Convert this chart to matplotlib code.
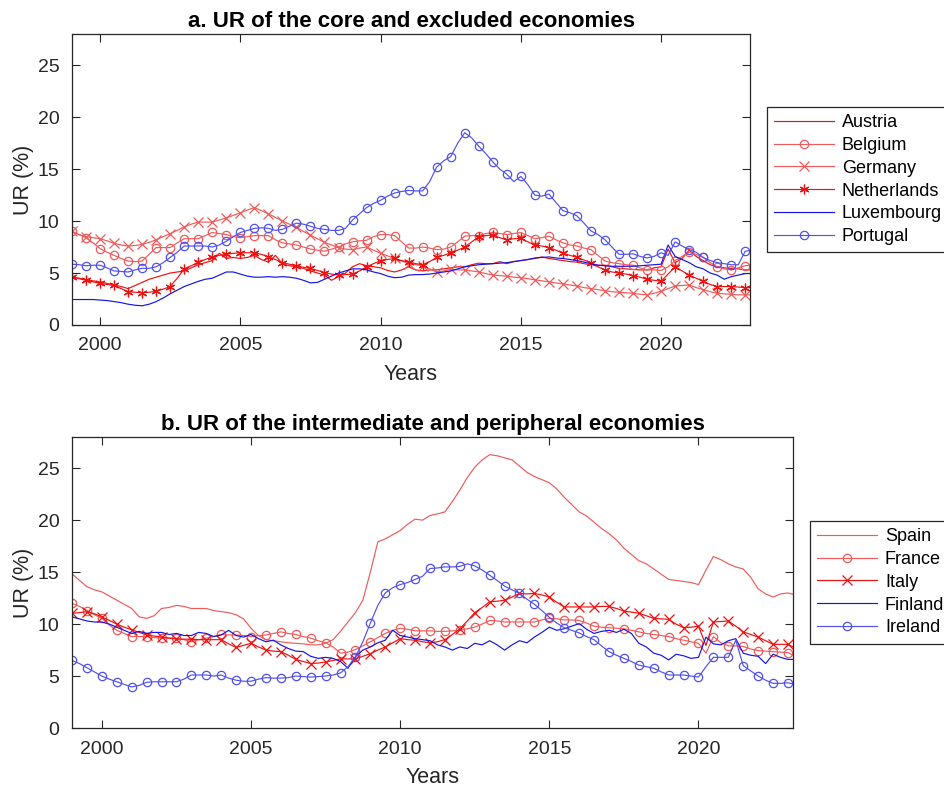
import numpy as np
import matplotlib
matplotlib.use("Agg")
import matplotlib.pyplot as plt

plt.rcParams["font.family"] = ["Liberation Sans", "DejaVu Sans"]

# Quarterly time axis (fractional years), Q1 1999 onwards
years = np.arange(1999.0, 2023.26, 0.25)

# ---- Panel a: core and excluded economies (unemployment rate, %) ----
austria = [4.65, 4.5, 4.35, 4.25, 4.15, 4.0, 3.85, 3.7, 3.5, 3.8, 4.1, 4.4,
           4.6, 4.8, 5.0, 5.1, 5.2, 5.5, 5.8, 6.0, 6.2, 6.9, 6.4, 6.5,
           6.4, 6.5, 6.7, 6.3, 6.05, 6.7, 5.9, 5.7, 5.6, 5.45, 5.2, 5.0,
           4.8, 4.3, 4.65, 5.0, 5.6, 5.9, 5.7, 5.6, 5.5, 5.25, 5.1, 5.3,
           5.6, 5.3, 5.2, 5.3, 5.3, 5.4, 5.5, 5.6, 5.6, 5.8, 5.95, 5.9,
           5.9, 6.1, 5.9, 6.1, 6.2, 6.3, 6.4, 6.55, 6.4, 6.3, 6.2, 6.1,
           6.05, 5.9, 5.8, 5.75, 5.75, 5.6, 5.45, 5.4, 5.35, 5.3, 5.3, 5.5,
           5.6, 7.3, 6.0, 6.4, 7.2, 6.6, 6.2, 5.8, 5.6, 5.5, 5.45, 5.4,
           5.3, 5.3]
belgium = [9.0, 8.7, 8.4, 7.9, 7.35, 7.0, 6.7, 6.4, 6.15, 6.1, 6.15, 6.8,
           7.45, 7.45, 7.45, 7.9, 8.3, 8.3, 8.3, 8.6, 8.9, 8.8, 8.7, 8.5,
           8.4, 8.5, 8.6, 8.6, 8.6, 8.2, 7.9, 7.8, 7.7, 7.5, 7.3, 7.2,
           7.1, 7.3, 7.5, 7.8, 8.0, 8.1, 8.15, 8.5, 8.7, 8.7, 8.6, 8.0,
           7.4, 7.4, 7.5, 7.4, 7.25, 7.3, 7.5, 8.0, 8.55, 8.6, 8.6, 8.8,
           8.9, 8.8, 8.7, 8.8, 8.9, 8.6, 8.3, 8.4, 8.55, 8.2, 7.9, 7.7,
           7.6, 7.4, 7.25, 6.7, 6.15, 6.0, 5.9, 5.8, 5.75, 5.5, 5.3, 5.3,
           5.25, 5.6, 6.2, 6.6, 7.0, 6.8, 6.5, 6.0, 5.6, 5.4, 5.3, 5.5,
           5.7, 5.8]
germany = [9.0, 8.7, 8.5, 8.4, 8.3, 8.1, 7.85, 7.7, 7.6, 7.65, 7.75, 7.95,
           8.2, 8.5, 8.8, 9.1, 9.45, 9.7, 9.9, 9.9, 9.9, 10.1, 10.3, 10.55,
           10.8, 11.05, 11.3, 11.0, 10.7, 10.35, 10.0, 9.7, 9.4, 9.0, 8.65, 8.3,
           7.95, 7.7, 7.45, 7.3, 7.25, 7.4, 7.5, 7.2, 6.9, 6.65, 6.4, 6.15,
           5.9, 5.8, 5.7, 5.4, 5.1, 5.2, 5.35, 5.3, 5.3, 5.2, 5.1, 4.95,
           4.8, 4.75, 4.7, 4.6, 4.55, 4.45, 4.35, 4.25, 4.15, 4.05, 3.95, 3.85,
           3.75, 3.6, 3.5, 3.4, 3.3, 3.2, 3.15, 3.1, 3.05, 2.95, 2.9, 3.05,
           3.25, 3.5, 3.75, 3.8, 3.85, 3.6, 3.4, 3.2, 3.05, 3.0, 2.95, 2.9,
           2.9, 2.9]
netherlands = [4.65, 4.45, 4.3, 4.15, 4.0, 3.9, 3.8, 3.5, 3.2, 3.15, 3.1, 3.15,
               3.25, 3.45, 3.7, 4.5, 5.4, 5.7, 6.05, 6.3, 6.55, 6.7, 6.8, 6.9,
               6.95, 6.95, 6.95, 6.8, 6.55, 6.3, 6.0, 5.85, 5.7, 5.55, 5.45, 5.25,
               5.05, 4.9, 4.8, 4.85, 4.9, 5.2, 5.6, 5.9, 6.2, 6.3, 6.4, 6.2,
               6.05, 5.9, 5.8, 6.1, 6.5, 6.7, 6.95, 7.2, 7.5, 8.0, 8.5, 8.6,
               8.65, 8.4, 8.2, 8.3, 8.35, 8.0, 7.7, 7.6, 7.45, 7.2, 6.9, 6.7,
               6.5, 6.25, 6.0, 5.6, 5.3, 5.1, 5.0, 4.9, 4.75, 4.6, 4.4, 4.3,
               4.2, 4.9, 5.6, 5.2, 4.8, 4.5, 4.2, 3.9, 3.7, 3.7, 3.7, 3.65,
               3.6, 3.6]
luxembourg = [2.45, 2.45, 2.45, 2.45, 2.4, 2.35, 2.25, 2.15, 2.0, 1.9, 1.85, 2.0,
              2.25, 2.6, 3.0, 3.35, 3.7, 3.95, 4.2, 4.4, 4.5, 4.8, 5.1, 5.1,
              4.9, 4.7, 4.6, 4.6, 4.65, 4.6, 4.65, 4.6, 4.5, 4.3, 4.05, 4.1,
              4.4, 4.7, 5.0, 5.2, 5.4, 5.4, 5.3, 5.1, 4.95, 4.7, 4.55, 4.6,
              4.8, 4.85, 4.85, 4.9, 5.0, 5.1, 5.2, 5.4, 5.6, 5.7, 5.8, 5.85,
              5.9, 5.95, 6.0, 6.1, 6.2, 6.3, 6.45, 6.5, 6.55, 6.45, 6.4, 6.3,
              6.2, 6.05, 5.9, 5.75, 5.7, 5.65, 5.65, 5.65, 5.65, 5.7, 5.75, 5.8,
              5.85, 7.7, 6.6, 6.3, 6.0, 5.6, 5.4, 5.0, 4.8, 4.4, 4.65, 4.8,
              4.95, 4.95]
portugal = [5.85, 5.8, 5.7, 5.75, 5.75, 5.5, 5.2, 5.15, 5.1, 5.3, 5.45, 5.45,
            5.6, 6.0, 6.5, 7.0, 7.6, 7.6, 7.6, 7.6, 7.5, 7.7, 8.05, 8.5,
            8.9, 9.1, 9.3, 9.35, 9.3, 9.1, 9.2, 9.5, 9.8, 9.7, 9.5, 9.3,
            9.2, 9.1, 9.1, 9.3, 10.1, 10.7, 11.3, 11.7, 12.0, 12.4, 12.7, 12.85,
            12.95, 12.9, 12.9, 13.8, 15.2, 15.8, 16.2, 17.5, 18.5, 18.0, 17.2, 16.5,
            15.7, 15.0, 14.5, 13.8, 14.3, 13.5, 12.5, 12.4, 12.6, 11.8, 11.0, 10.8,
            10.5, 9.8, 9.05, 8.7, 8.2, 7.5, 6.8, 6.8, 6.85, 6.6, 6.45, 6.6,
            6.95, 6.7, 8.0, 7.6, 7.25, 7.0, 6.5, 6.2, 6.0, 5.9, 5.8, 5.8,
            7.1, 7.2]

# ---- Panel b: intermediate and peripheral economies ----
spain = [14.85, 14.2, 13.6, 13.3, 13.1, 12.7, 12.3, 11.9, 11.5, 10.7, 10.55, 10.8,
         11.5, 11.6, 11.8, 11.7, 11.5, 11.5, 11.5, 11.3, 11.2, 11.1, 10.9, 10.5,
         9.6, 8.9, 8.5, 8.4, 8.3, 8.2, 8.15, 8.1, 8.0, 8.0, 8.15, 8.5,
         9.3, 10.2, 11.1, 12.3, 15.0, 17.9, 18.2, 18.6, 19.0, 19.6, 20.1, 20.0,
         20.45, 20.6, 20.8, 21.8, 22.9, 24.1, 25.1, 25.8, 26.3, 26.2, 26.0, 25.8,
         25.2, 24.6, 24.2, 23.9, 23.6, 23.0, 22.2, 21.5, 20.8, 20.4, 19.8, 19.2,
         18.7, 18.1, 17.3, 16.7, 16.1, 15.8, 15.3, 14.8, 14.3, 14.2, 14.1, 14.0,
         13.8, 15.2, 16.5, 16.2, 15.8, 15.5, 15.3, 14.5, 13.4, 12.9, 12.6, 12.9,
         13.0, 12.8]
france = [12.0, 11.7, 11.3, 10.9, 10.55, 9.9, 9.4, 9.1, 8.8, 8.8, 8.8, 8.7,
          8.65, 8.65, 8.65, 8.5, 8.3, 8.5, 8.65, 8.8, 9.0, 8.95, 8.95, 8.9,
          8.8, 8.9, 8.95, 9.1, 9.25, 9.1, 9.0, 8.8, 8.65, 8.4, 8.2, 7.8,
          7.2, 7.3, 7.55, 7.9, 8.3, 8.7, 9.1, 9.4, 9.6, 9.5, 9.35, 9.35,
          9.35, 9.3, 9.3, 9.35, 9.4, 9.55, 9.7, 10.0, 10.35, 10.3, 10.2, 10.2,
          10.2, 10.2, 10.2, 10.4, 10.55, 10.5, 10.4, 10.4, 10.35, 10.1, 9.8, 9.7,
          9.65, 9.6, 9.55, 9.4, 9.25, 9.1, 9.0, 8.9, 8.8, 8.6, 8.45, 8.3,
          8.15, 7.2, 8.8, 8.2, 7.9, 7.9, 7.85, 7.6, 7.45, 7.4, 7.35, 7.3,
          7.25, 6.9]
italy = [11.05, 11.1, 11.2, 11.0, 10.7, 10.35, 10.0, 9.7, 9.45, 9.2, 8.95, 8.85,
         8.75, 8.65, 8.55, 8.55, 8.55, 8.5, 8.5, 8.5, 8.5, 8.1, 7.75, 7.95,
         8.15, 7.8, 7.5, 7.4, 7.35, 7.0, 6.6, 6.4, 6.2, 6.25, 6.35, 6.5,
         6.65, 6.65, 6.65, 6.9, 7.15, 7.5, 7.8, 8.2, 8.6, 8.5, 8.45, 8.3,
         8.2, 8.3, 8.5, 9.0, 9.55, 10.3, 11.1, 11.6, 12.15, 12.2, 12.3, 12.6,
         12.95, 12.9, 12.95, 12.8, 12.6, 12.1, 11.65, 11.65, 11.65, 11.65, 11.65, 11.7,
         11.7, 11.5, 11.25, 11.15, 11.05, 10.8, 10.55, 10.5, 10.45, 10.0, 9.65, 9.7,
         9.8, 7.95, 10.2, 10.25, 10.3, 9.8, 9.25, 9.0, 8.75, 8.4, 8.05, 8.05,
         8.05, 7.7]
finland = [10.7, 10.5, 10.3, 10.2, 10.2, 10.0, 9.7, 9.4, 9.1, 9.3, 9.1, 9.2,
           9.2, 9.0, 9.1, 8.9, 8.9, 9.2, 9.1, 8.8, 8.95, 9.4, 8.9, 8.75,
           9.0, 8.6, 8.3, 8.45, 8.0, 7.65, 7.4, 7.35, 6.9, 6.7, 6.8, 6.7,
           6.4, 5.75, 6.85, 7.5, 7.8, 8.2, 8.45, 9.4, 8.9, 8.75, 8.6, 8.5,
           8.4, 8.0, 7.8, 7.5, 7.8, 7.65, 8.15, 8.0, 8.4, 8.0, 7.5, 8.0,
           8.4, 8.2, 8.75, 9.2, 9.7, 9.4, 9.55, 9.8, 10.05, 9.5, 9.1, 9.3,
           9.4, 9.2, 9.5, 9.1, 8.15, 7.8, 7.2, 7.0, 6.55, 7.1, 6.95, 6.7,
           6.8, 8.75, 8.1, 8.0, 8.4, 8.6, 7.2, 7.0, 6.9, 6.2, 7.1, 6.8,
           6.6, 6.6]
ireland = [6.5, 6.2, 5.8, 5.4, 5.0, 4.7, 4.45, 4.2, 3.95, 4.1, 4.4, 4.45,
           4.45, 4.45, 4.45, 4.7, 5.1, 5.1, 5.1, 5.0, 5.1, 4.8, 4.6, 4.5,
           4.5, 4.7, 4.85, 4.8, 4.8, 4.85, 5.0, 4.95, 4.9, 4.95, 5.0, 5.1,
           5.3, 5.9, 6.85, 8.3, 10.1, 11.8, 13.0, 13.5, 13.8, 14.0, 14.3, 14.6,
           15.35, 15.4, 15.5, 15.5, 15.55, 15.8, 15.6, 15.2, 14.7, 14.2, 13.65, 13.3,
           12.95, 12.4, 11.9, 11.3, 10.65, 10.1, 9.65, 9.4, 9.15, 8.8, 8.5, 7.9,
           7.35, 7.0, 6.7, 6.4, 6.05, 5.9, 5.75, 5.4, 5.1, 5.1, 5.1, 5.0,
           4.9, 5.9, 6.8, 6.8, 6.8, 8.45, 6.0, 5.5, 5.0, 4.6, 4.3, 4.3,
           4.35, 4.2]

year_ticks = [2000, 2005, 2010, 2015, 2020]
ur_ticks = [0, 5, 10, 15, 20, 25]

RED = "#ee1111"
LRED = "#f05a5a"
BLUE = "#1414e6"
LBLUE = "#5050ee"
AXC = "#262626"

fig = plt.figure(figsize=(9.44, 7.89), dpi=100)
ax1 = fig.add_axes([0.0763, 0.5881, 0.7182, 0.3688])
ax2 = fig.add_axes([0.0763, 0.0773, 0.7638, 0.3688])

star = (6, 2, 0)
common = dict(lw=0.85, markevery=2, markerfacecolor="none", markeredgewidth=0.9)

ax1.plot(years, austria, color=RED, label="Austria", **common)
ax1.plot(years, belgium, color=LRED, marker="o", ms=6, label="Belgium", **common)
ax1.plot(years, germany, color=LRED, marker="x", ms=7, label="Germany", **common)
ax1.plot(years, netherlands, color=RED, marker=star, ms=7, label="Netherlands", **common)
ax1.plot(years, luxembourg, color=BLUE, label="Luxembourg", **common)
ax1.plot(years, portugal, color=LBLUE, marker="o", ms=6, label="Portugal", **common)

ax2.plot(years, spain, color=LRED, label="Spain", **common)
ax2.plot(years, france, color=LRED, marker="o", ms=6, label="France", **common)
ax2.plot(years, italy, color=RED, marker="x", ms=7, label="Italy", **common)
ax2.plot(years, finland, color=BLUE, label="Finland", **common)
ax2.plot(years, ireland, color=LBLUE, marker="o", ms=6, label="Ireland", **common)

titles = ["a. UR of the core and excluded economies",
          "b. UR of the intermediate and peripheral economies"]
anchors = [(0.8125, 0.8644), (0.858, 0.3397)]

for ax, title, anchor in zip((ax1, ax2), titles, anchors):
    ax.set_xlim(1999.0, 2023.17)
    ax.set_ylim(0, 28)
    ax.set_xticks(year_ticks)
    ax.set_yticks(ur_ticks)
    ax.tick_params(direction="in", top=True, right=True, length=6, width=0.8,
                   labelsize=14, colors=AXC, pad=9)
    for sp in ax.spines.values():
        sp.set_color(AXC)
        sp.set_linewidth(0.9)
    ax.set_title(title, fontsize=16, fontweight="bold", pad=5)
    ax.set_xlabel("Years", fontsize=15.5, color=AXC, labelpad=7)
    ax.set_ylabel("UR (%)", fontsize=15.5, color=AXC, labelpad=3)
    leg = ax.legend(loc="upper left", bbox_to_anchor=anchor,
                    bbox_transform=fig.transFigure, fontsize=13,
                    frameon=True, fancybox=False, framealpha=1,
                    edgecolor=AXC, handlelength=3.3, labelspacing=0.32,
                    borderpad=0.4, handletextpad=0.45, borderaxespad=0)
    leg.get_frame().set_linewidth(0.9)

fig.savefig("out.png", dpi=100)
